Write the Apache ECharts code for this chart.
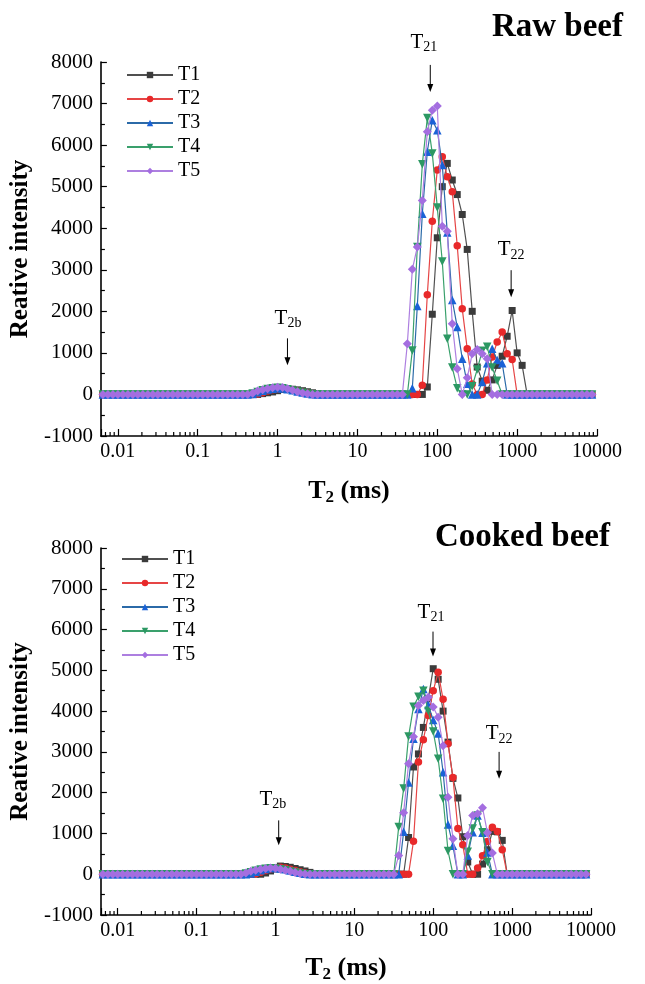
<!DOCTYPE html>
<html><head><meta charset="utf-8">
<script src="https://cdn.jsdelivr.net/npm/echarts@6/dist/echarts.min.js"></script>
<style>html,body{margin:0;padding:0;background:#fff}#c{width:645px;height:984px}</style>
</head><body><div id="c"></div>
<script>
// T2 relaxation-time grid (ms), log-spaced
const T2_GRID = [0.00649,0.0075,0.00866,
 0.01,0.01155,0.01334,0.0154,0.01778,0.02054,0.02371,0.02738,0.03162,0.03652,0.04217,0.0487,0.05623,0.06494,0.07499,0.0866,
 0.1,0.1155,0.1334,0.154,0.1778,0.2054,0.2371,0.2738,0.3162,0.3652,0.4217,0.487,0.5623,0.6494,0.7499,0.866,
 1,1.155,1.334,1.54,1.778,2.054,2.371,2.738,3.162,3.652,4.217,4.87,5.623,6.494,7.499,8.66,
 10,11.55,13.34,15.4,17.78,20.54,23.71,27.38,31.62,36.52,42.17,48.7,56.23,64.94,74.99,86.6,
 100,115.5,133.4,154,177.8,205.4,237.1,273.8,316.2,365.2,421.7,487,562.3,649.4,749.9,866,
 1000,1155,1334,1540,1778,2054,2371,2738,3162,3652,4217,4870,5623,6494,7499,8660];

const SERIES_NAMES = ['T1','T2','T3','T4','T5'];

// Raw beef
const RAW_T1 = [0,0,0,0,0,0,0,0,0,0, 0,0,0,0,0,0,0,0,0,0, 0,0,0,0,0,0,0,0,0,0,
 0,0,20,40,60,90,120,130,125,110, 90,65,40,15,0,0,0,0,0,0, 0,0,0,0,0,0,0,0,0,0,
 0,0,0,0,0,180,1930,3770,5000,5560, 5160,4810,4330,3490,2000,660,320,100,350,700,
 920,1400,2020,1000,700,0,0,0,0,0, 0,0,0,0,0,0,0,0,0];
const RAW_T2 = [0,0,0,0,0,0,0,0,0,0, 0,0,0,0,0,0,0,0,0,0, 0,0,0,0,0,0,0,0,0,0,
 0,10,40,80,110,130,140,130,110,85, 60,35,15,0,0,0,0,0,0,0, 0,0,0,0,0,0,0,0,0,0,
 0,0,0,0,220,2400,4170,5400,5720,5240, 4880,3580,2060,1100,250,0,0,350,900,1260,
 1500,980,840,0,0,0,0,0,0,0, 0,0,0,0,0,0,0,0,0];
const RAW_T3 = [0,0,0,0,0,0,0,0,0,0, 0,0,0,0,0,0,0,0,0,0, 0,0,0,0,0,0,0,0,0,0,
 10,50,90,120,140,150,145,125,100,70, 45,20,5,0,0,0,0,0,0,0, 0,0,0,0,0,0,0,0,0,0,
 0,0,150,2130,4350,5840,6600,6360,5520,3900, 2270,1620,860,260,0,0,300,750,1100,830,
 750,0,0,0,0,0,0,0,0,0, 0,0,0,0,0,0,0,0,0];
const RAW_T4 = [0,0,0,0,0,0,0,0,0,0, 0,0,0,0,0,0,0,0,0,0, 0,0,0,0,0,0,0,0,0,0,
 20,60,100,130,150,160,150,125,95,65, 40,15,0,0,0,0,0,0,0,0, 0,0,0,0,0,0,0,0,0,0,
 0,0,1060,3550,5540,6650,5800,4500,3200,1340, 650,150,0,0,200,600,1050,1150,650,330,
 0,0,0,0,0,0,0,0,0,0, 0,0,0,0,0,0,0,0,0];
const RAW_T5 = [0,0,0,0,0,0,0,0,0,0, 0,0,0,0,0,0,0,0,0,0, 0,0,0,0,0,0,0,0,0,0,
 30,80,115,140,160,175,165,135,100,65, 35,15,0,0,0,0,0,0,0,0, 0,0,0,0,0,0,0,0,0,0,
 0,1220,3010,3550,4670,6320,6840,6940,4050,3930, 1700,620,0,400,980,1080,980,860,0,0,
 0,0,0,0,0,0,0,0,0,0, 0,0,0,0,0,0,0,0,0];

// Cooked beef
const COOKED_T1 = [0,0,0,0,0,0,0,0,0,0, 0,0,0,0,0,0,0,0,0,0, 0,0,0,0,0,0,0,0,0,0,
 0,0,0,30,80,130,200,190,170,140, 110,80,45,10,0,0,0,0,0,0, 0,0,0,0,0,0,0,0,0,0,
 0,0,900,2630,2950,3600,4300,5040,4780,4000, 3240,2350,1870,920,300,0,0,250,600,1050,
 1040,830,0,0,0,0,0,0,0,0, 0,0,0,0,0,0,0,0,0];
const COOKED_T2 = [0,0,0,0,0,0,0,0,0,0, 0,0,0,0,0,0,0,0,0,0, 0,0,0,0,0,0,0,0,0,0,
 0,10,50,90,130,160,170,150,120,90, 60,30,5,0,0,0,0,0,0,0, 0,0,0,0,0,0,0,0,0,0,
 0,0,0,810,2750,3300,3890,4500,4950,4290, 3200,2370,1120,720,0,0,150,450,800,1150,
 1050,600,0,0,0,0,0,0,0,0, 0,0,0,0,0,0,0,0,0];
const COOKED_T3 = [0,0,0,0,0,0,0,0,0,0, 0,0,0,0,0,0,0,0,0,0, 0,0,0,0,0,0,0,0,0,0,
 20,60,100,130,150,150,140,120,90,60, 35,10,0,0,0,0,0,0,0,0, 0,0,0,0,0,0,0,0,0,0,
 0,1040,2250,3320,4050,4540,4150,3780,3450,2500, 1220,700,0,0,460,1030,1440,1020,530,0,
 0,0,0,0,0,0,0,0,0,0, 0,0,0,0,0,0,0,0,0];
const COOKED_T4 = [0,0,0,0,0,0,0,0,0,0, 0,0,0,0,0,0,0,0,0,0, 0,0,0,0,0,0,0,0,0,20,
 50,85,115,135,145,140,120,95,65,40, 15,0,0,0,0,0,0,0,0,0, 0,0,0,0,0,0,0,0,0,0,
 1160,2100,3380,4110,4350,4500,4000,3500,2830,1850, 570,0,0,0,550,1120,1440,1030,300,0,
 0,0,0,0,0,0,0,0,0,0, 0,0,0,0,0,0,0,0,0];
const COOKED_T5 = [0,0,0,0,0,0,0,0,0,0, 0,0,0,0,0,0,0,0,0,0, 0,0,0,0,0,0,0,0,0,30,
 70,100,125,140,150,145,125,100,70,45, 20,5,0,0,0,0,0,0,0,0, 0,0,0,0,0,0,0,0,0,0,
 460,1510,2710,3370,4140,4260,4340,4100,3850,3150, 1890,870,0,0,950,1440,1480,1630,1020,520,
 0,0,0,0,0,0,0,0,0,0, 0,0,0,0,0,0,0,0,0];

const X_TICK_LABELS = ['0.01','0.1','1','10','100','1000','10000'];
const Y_MIN = -1000, Y_MAX = 8000, Y_STEP = 1000;
const X_MIN = 0.006131, X_MAX = 10000;
const CHART_TITLES = ['Raw beef', 'Cooked beef'];
const Y_NAME = 'Reative intensity';

// annotation anchors in data units: [axis, subscript, T2 of text, T2 of arrow, y text, y arrow top, y arrow bottom]
const ANNOTATIONS = [
  [0, '21', 67.8, 81.7, 8470, 7930, 7280],
  [0, '22', 841, 841, 3480, 2990, 2340],
  [0, '2b', 1.35, 1.33, 1830, 1350, 700],
  [1, '21', 93.8, 99.4, 6430, 5950, 5340],
  [1, '22', 684, 684, 3440, 3000, 2340],
  [1, '2b', 0.927, 1.10, 1840, 1320, 710]
];

const FONT = 'Liberation Serif';
const STYLES = [
  {symbol:'rect', size:7, rotate:0, marker:'#3b3b3b', line:'#505050'},
  {symbol:'circle', size:7.5, rotate:0, marker:'#e8292a', line:'#e64545'},
  {symbol:'triangle', size:8.5, rotate:0, marker:'#1a62d6', line:'#2b6aa8'},
  {symbol:'triangle', size:8.5, rotate:180, marker:'#2c9863', line:'#3aa06c'},
  {symbol:'diamond', size:9, rotate:0, marker:'#a46ee0', line:'#ad7fe0'}
];

function lineSeries(values, idx, axis) {
  const s = STYLES[idx];
  return {
    type:'line', name: SERIES_NAMES[idx], xAxisIndex: axis, yAxisIndex: axis,
    data: T2_GRID.map((t, i) => [t, values[i]]),
    symbol: s.symbol, symbolSize: s.size, symbolRotate: s.rotate, showAllSymbol: true,
    itemStyle: {color: s.marker}, lineStyle: {color: s.line, width: 1.2},
    emphasis: {disabled: true}, z: 2 + idx
  };
}

const MINOR_MANTISSAS = [2,3,4,5,6,7,8,9];
const DECADES = [0.001,0.01,0.1,1,10,100,1000];
const minorTicks = [];
DECADES.forEach(d => MINOR_MANTISSAS.forEach(m => { const v = m * d; if (v > X_MIN && v < X_MAX) minorTicks.push([v, Y_MIN]); }));

function minorTickSeries(axis) {
  return {
    type:'custom', xAxisIndex: axis, yAxisIndex: axis, silent: true, z: 20,
    data: minorTicks, encode: {x: 0, y: 1},
    renderItem: (params, api) => {
      const p = api.coord([api.value(0), api.value(1)]);
      return {type:'line', shape:{x1:p[0], y1:p[1], x2:p[0], y2:p[1]-4}, style:{stroke:'#000', lineWidth:1.2}};
    }
  };
}

const grids = [
  {left:100, right:48, top:62, height:374},
  {left:98, right:54, top:548, height:369}
];

function xAxis(idx, gap) {
  return {
    type:'log', gridIndex: idx, min: X_MIN, max: X_MAX, logBase: 10,
    name: '{b|T}{s|2}{b| (ms)}', nameLocation:'middle', nameGap: gap,
    nameTextStyle: {rich: {
      b: {fontFamily: FONT, fontWeight:'bold', fontSize: 26, color:'#000'},
      s: {fontFamily: FONT, fontWeight:'bold', fontSize: 17, color:'#000', padding:[13,0,0,0]}
    }},
    axisLine: {show:true, onZero:false, lineStyle:{color:'#000', width:1.6}},
    axisTick: {show:true, inside:true, length:7, lineStyle:{color:'#000', width:1.2}},
    minorTick: {show:false}, splitLine:{show:false},
    axisLabel: {
      fontFamily: FONT, fontSize: 20, color:'#000', margin: 6,
      formatter: v => {
        const l = Math.log10(v), e = Math.round(l);
        if (Math.abs(l - e) > 1e-6) return '';
        const lab = X_TICK_LABELS[e + 2];
        return lab === undefined ? '' : lab;
      }
    }
  };
}
function yAxis(idx) {
  return {
    type:'value', gridIndex: idx, min: Y_MIN, max: Y_MAX, interval: Y_STEP,
    name: Y_NAME, nameLocation:'middle', nameGap: 62, nameRotate: 90,
    nameTextStyle: {fontFamily: FONT, fontWeight:'bold', fontSize: 25, color:'#000'},
    axisLine: {show:true, onZero:false, lineStyle:{color:'#000', width:1.6}},
    axisTick: {show:true, inside:true, length:6, lineStyle:{color:'#000', width:1.2}},
    minorTick: {show:true, splitNumber:2, length:4, lineStyle:{color:'#000', width:1.2}},
    splitLine: {show:false},
    axisLabel: {fontFamily: FONT, fontSize: 21, color:'#000', margin: 8, formatter: v => String(v)}
  };
}

const legendBase = {
  data: SERIES_NAMES, orient:'vertical', itemWidth: 46, itemHeight: 8, itemGap: 4,
  textStyle: {fontFamily: FONT, fontSize: 20, lineHeight: 20, color:'#000'},
  selectedMode: false
};

const series = [];
[RAW_T1, RAW_T2, RAW_T3, RAW_T4, RAW_T5].forEach((v, i) => series.push(lineSeries(v, i, 0)));
[COOKED_T1, COOKED_T2, COOKED_T3, COOKED_T4, COOKED_T5].forEach((v, i) => series.push(lineSeries(v, i, 1)));
series.push(minorTickSeries(0), minorTickSeries(1));

const chart = echarts.init(document.getElementById('c'), null, {renderer:'canvas'});
chart.setOption({
  animation: false,
  backgroundColor: '#fff',
  title: [
    {text: CHART_TITLES[0], right: 17, top: 6, textStyle:{fontFamily: FONT, fontWeight:'bold', fontSize: 33, color:'#000'}},
    {text: CHART_TITLES[1], right: 30, top: 516, textStyle:{fontFamily: FONT, fontWeight:'bold', fontSize: 33, color:'#000'}}
  ],
  legend: [
    Object.assign({}, legendBase, {left: 121, top: 60}),
    Object.assign({}, legendBase, {left: 116, top: 544})
  ],
  grid: grids,
  xAxis: [xAxis(0, 40), xAxis(1, 38)],
  yAxis: [yAxis(0), yAxis(1)],
  series: series
});

const graphics = [];
ANNOTATIONS.forEach(a => {
  const [axis, sub, tText, tArrow, yText, yTop, yBottom] = a;
  const finder = {xAxisIndex: axis, yAxisIndex: axis};
  const pt = chart.convertToPixel(finder, [tText, yText]);
  const p1 = chart.convertToPixel(finder, [tArrow, yTop]);
  const p2 = chart.convertToPixel(finder, [tArrow, yBottom]);
  graphics.push({
    type:'text', x: pt[0], y: pt[1], z: 50,
    style: {
      text: '{t|T}{s|' + sub + '}', align:'center', verticalAlign:'middle',
      textAlign:'center', textVerticalAlign:'middle',
      rich: {
        t: {fontFamily: FONT, fontSize: 21, lineHeight: 21, fill:'#000', color:'#000'},
        s: {fontFamily: FONT, fontSize: 14, lineHeight: 14, fill:'#000', color:'#000', padding:[10,0,0,0]}
      }
    }
  });
  graphics.push({type:'line', z: 50, shape:{x1:p1[0], y1:p1[1], x2:p2[0], y2:p2[1]-6}, style:{stroke:'#000', lineWidth:1}});
  graphics.push({type:'polygon', z: 50, shape:{points:[[p2[0]-3, p2[1]-8],[p2[0]+3, p2[1]-8],[p2[0], p2[1]]]}, style:{fill:'#000'}});
});
chart.setOption({graphic: graphics});
</script>
</body></html>
